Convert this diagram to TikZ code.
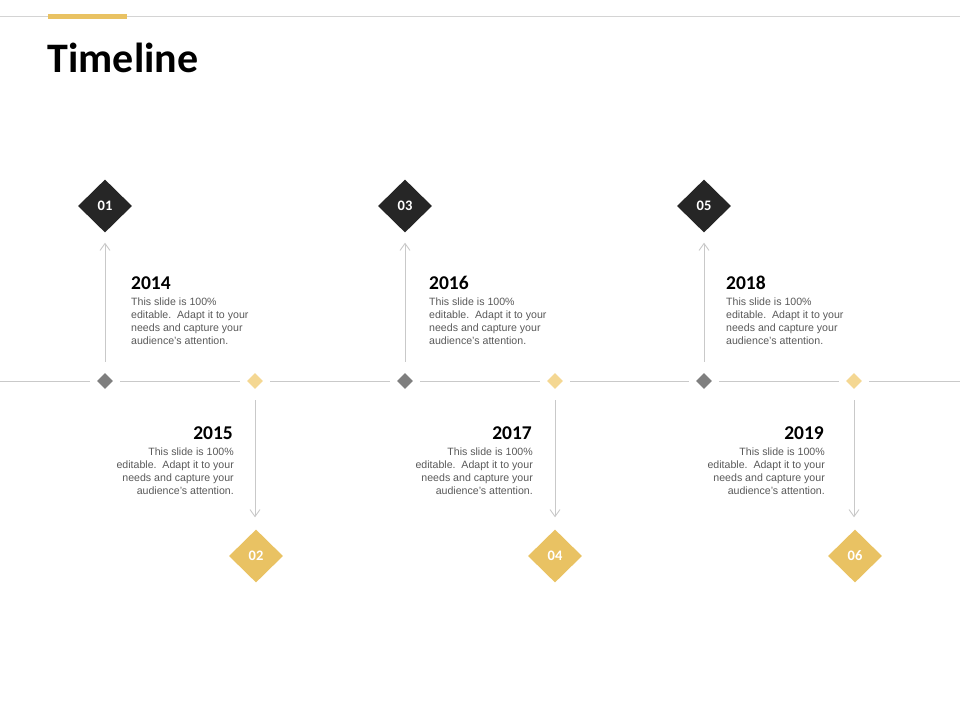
\documentclass[tikz,border=0pt]{standalone}
\usepackage{fontspec}
\setmainfont{Liberation Sans}
\newfontfamily\calib{Carlito}
\usetikzlibrary{shapes.geometric,arrows.meta}
\definecolor{dk}{HTML}{262626}
\definecolor{gd}{HTML}{E9C263}
\definecolor{lgd}{HTML}{F4D792}
\definecolor{mgray}{HTML}{7F7F7F}
\definecolor{lgray}{HTML}{C9C9C9}
\definecolor{txtg}{HTML}{595959}
\tikzset{
  bigdia/.style={diamond,aspect=1,inner sep=0pt,minimum width=54pt,minimum height=53pt,
    text=white,font=\calib\bfseries\fontsize{14.5}{16}\selectfont},
  darkdia/.style={bigdia,fill=dk},
  golddia/.style={bigdia,fill=gd},
  smalldia/.style={diamond,aspect=1,inner sep=0pt,minimum width=16pt,minimum height=16pt},
  graysm/.style={smalldia,fill=mgray},
  goldsm/.style={smalldia,fill=lgd},
  tline/.style={draw=lgray,line width=1pt},
  conn/.style={draw=lgray,line width=0.9pt,-{Straight Barb[length=7pt,width=10pt,line width=0.9pt]}},
  year/.style={inner sep=0pt,font=\calib\bfseries\fontsize{19.5}{22}\selectfont,text=black},
  bodyl/.style={inner sep=0pt,align=left,anchor=north west,text=txtg,font=\fontsize{10.6}{13}\selectfont},
  bodyr/.style={inner sep=0pt,align=right,anchor=north east,text=txtg,font=\fontsize{10.6}{13}\selectfont},
}
\begin{document}
\begin{tikzpicture}[x=1pt,y=-1pt]
\useasboundingbox (0,0) rectangle (960,720);
% header
\coordinate (hl) at (0,16.5);
\coordinate (hr) at (960,16.5);
\draw[draw=lgray!80,line width=0.8pt] (hl) -- (hr);
\fill[gd] (48,14) rectangle (127,18.5);
\node[anchor=base west,inner sep=0pt,font=\calib\bfseries\fontsize{42}{46}\selectfont] (title) at (47.5,72) {Timeline};

% small diamonds on timeline
\node[graysm] (s1) at (105,381) {};
\node[goldsm] (s2) at (255,381) {};
\node[graysm] (s3) at (405,381) {};
\node[goldsm] (s4) at (555,381) {};
\node[graysm] (s5) at (704,381) {};
\node[goldsm] (s6) at (854,381) {};
\coordinate (tl) at (0,381);
\coordinate (tr) at (960,381);
\draw[tline,shorten >=7pt] (tl) -- (s1);
\draw[tline,shorten >=7pt,shorten <=7pt] (s1) -- (s2);
\draw[tline,shorten >=7pt,shorten <=7pt] (s2) -- (s3);
\draw[tline,shorten >=7pt,shorten <=7pt] (s3) -- (s4);
\draw[tline,shorten >=7pt,shorten <=7pt] (s4) -- (s5);
\draw[tline,shorten >=7pt,shorten <=7pt] (s5) -- (s6);
\draw[tline,shorten <=7pt] (s6) -- (tr);

% big diamonds
\node[darkdia] (d1) at (105,206) {01};
\node[golddia] (d2) at (256,556) {02};
\node[darkdia] (d3) at (405,206) {03};
\node[golddia] (d4) at (555,556) {04};
\node[darkdia] (d5) at (704,206) {05};
\node[golddia] (d6) at (855,556) {06};

% connectors
\draw[conn,shorten <=11pt,shorten >=10pt] (s1) -- (d1);
\draw[conn,shorten <=11pt,shorten >=12pt] (s2) -- (s2 |- d2.north);
\draw[conn,shorten <=11pt,shorten >=10pt] (s3) -- (d3);
\draw[conn,shorten <=11pt,shorten >=12pt] (s4) -- (s4 |- d4.north);
\draw[conn,shorten <=11pt,shorten >=10pt] (s5) -- (d5);
\draw[conn,shorten <=11pt,shorten >=12pt] (s6) -- (s6 |- d6.north);

% top texts
\node[year,anchor=base west] (y1) at (131,289.5) {2014};
\node[bodyl] (b1) at (131,298) {This slide is 100\%\\editable.\ \ Adapt it to your\\needs and capture your\\audience's attention.};
\node[year,anchor=base west] (y3) at (429,289.5) {2016};
\node[bodyl] (b3) at (429,298) {This slide is 100\%\\editable.\ \ Adapt it to your\\needs and capture your\\audience's attention.};
\node[year,anchor=base west] (y5) at (726,289.5) {2018};
\node[bodyl] (b5) at (726,298) {This slide is 100\%\\editable.\ \ Adapt it to your\\needs and capture your\\audience's attention.};

% bottom texts
\node[year,anchor=base east] (y2) at (233,439.5) {2015};
\node[bodyr] (b2) at (234,448) {This slide is 100\%\\editable.\ \ Adapt it to your\\needs and capture your\\audience's attention.};
\node[year,anchor=base east] (y4) at (532,439.5) {2017};
\node[bodyr] (b4) at (533,448) {This slide is 100\%\\editable.\ \ Adapt it to your\\needs and capture your\\audience's attention.};
\node[year,anchor=base east] (y6) at (824,439.5) {2019};
\node[bodyr] (b6) at (825,448) {This slide is 100\%\\editable.\ \ Adapt it to your\\needs and capture your\\audience's attention.};
\end{tikzpicture}
\end{document}
